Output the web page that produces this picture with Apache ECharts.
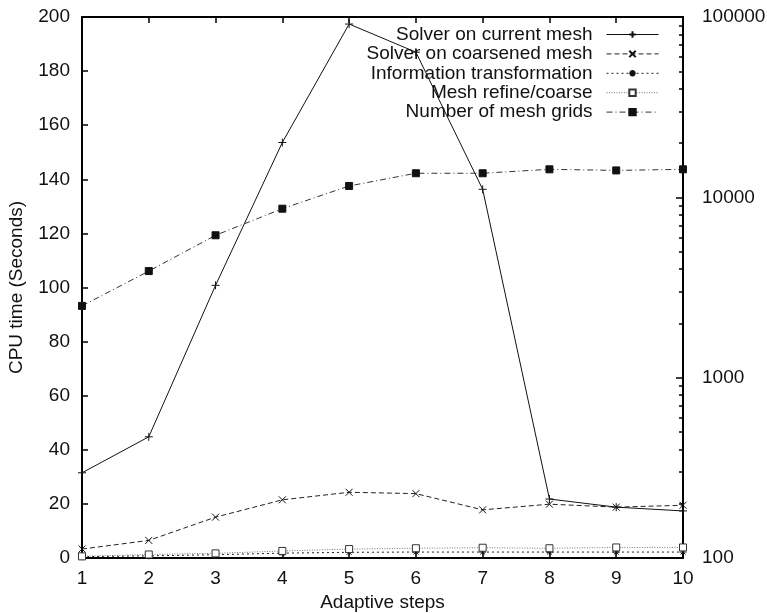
<!DOCTYPE html>
<html>
<head>
    <meta charset="utf-8">
    <title>CPU time</title>
    <script src="https://cdn.jsdelivr.net/npm/echarts@6/dist/echarts.min.js"></script>
    <style type="text/css">
        body { margin: 0; background: #fff; }
    </style>
</head>
<body>
<div id="main" style="width: 767px;height: 613px"></div>
<script>
    // data
    var steps = [1, 2, 3, 4, 5, 6, 7, 8, 9, 10];
    var solverCurrent = [31.5, 44.8, 100.8, 153.6, 197.4, 187, 136.3, 21.8, 18.8, 17.4];
    var solverCoarsened = [3.3, 6.5, 15.1, 21.5, 24.3, 23.8, 17.8, 19.9, 18.8, 19.5];
    var infoTransform = [0.5, 0.8, 1.2, 1.8, 2.1, 2.2, 2.2, 2.2, 2.2, 2.2];
    var meshRefine = [0.6, 1.3, 1.7, 2.6, 3.3, 3.6, 3.8, 3.6, 3.9, 3.9];
    var meshGrids = [2500, 3900, 6160, 8650, 11560, 13600, 13600, 14300, 14100, 14300];
    var rightLabels = [100, 1000, 10000, 100000];
    var rightMinor = [100, 200, 300, 400, 500, 600, 700, 800, 900,
        1000, 2000, 3000, 4000, 5000, 6000, 7000, 8000, 9000,
        10000, 20000, 30000, 40000, 50000, 60000, 70000, 80000, 90000, 100000];

    var font = 'Liberation Sans, Arial, sans-serif';
    var plusPath = 'path://M0,5L10,5M5,0L5,10';
    var crossPath = 'path://M0,0L10,10M10,0L0,10';
    var starPath = 'path://M0,5L10,5M5,0L5,10M1.5,1.5L8.5,8.5M8.5,1.5L1.5,8.5';

    function pairs(vals) {
        return steps.map(function (s, i) { return [s, vals[i]]; });
    }

    var chart = echarts.init(document.getElementById('main'));

    var option = {
        animation: false,
        textStyle: {fontFamily: font},
        grid: {left: 82, right: 84, top: 17, bottom: 55, outerBoundsMode: 'none'},
        legend: {
            orient: 'vertical',
            align: 'right',
            right: 103,
            top: 20,
            itemWidth: 52,
            itemHeight: 8,
            itemGap: 0.4,
            lineStyle: {width: 1},
            textStyle: {fontSize: 19, lineHeight: 19, color: '#111', fontFamily: font, padding: [0, 9, 0, 0]},
            data: ['Solver on current mesh', 'Solver on coarsened mesh',
                'Information transformation', 'Mesh refine/coarse', 'Number of mesh grids']
        },
        xAxis: [{
            type: 'value', min: 1, max: 10, interval: 1,
            name: 'Adaptive steps', nameLocation: 'middle', nameGap: 33,
            nameTextStyle: {fontSize: 19, color: '#111'},
            axisLine: {lineStyle: {color: '#000', width: 2}},
            axisTick: {inside: true, length: 6, lineStyle: {color: '#000', width: 1.5}},
            axisLabel: {fontSize: 19, color: '#111', margin: 11},
            splitLine: {show: false}
        }, {
            // mirror ticks on top
            type: 'value', position: 'top', min: 1, max: 10, interval: 1,
            axisLine: {lineStyle: {color: '#000', width: 2}},
            axisTick: {inside: true, length: 6, lineStyle: {color: '#000', width: 1.5}},
            axisLabel: {show: false},
            splitLine: {show: false}
        }],
        yAxis: [{
            type: 'value', min: 0, max: 200, interval: 20,
            name: 'CPU time (Seconds)', nameLocation: 'middle', nameGap: 56,
            nameTextStyle: {fontSize: 19, color: '#111'},
            axisLine: {show: true, lineStyle: {color: '#000', width: 2}},
            axisTick: {show: true, inside: true, length: 6, lineStyle: {color: '#000', width: 1.5}},
            axisLabel: {fontSize: 19, color: '#111', margin: 12},
            splitLine: {show: false}
        }, {
            type: 'log', logBase: 10, min: 100, max: 100000, position: 'right',
            axisLine: {show: true, lineStyle: {color: '#000', width: 2}},
            axisTick: {show: true, inside: true, length: 7, lineStyle: {color: '#000', width: 1.5}},
            axisLabel: {fontSize: 19, color: '#111', margin: 19, customValues: rightLabels,
                formatter: function (v) { return String(Math.round(v)); }},
            splitLine: {show: false}
        }, {
            // minor log ticks, drawn in log10 units
            type: 'value', min: 2, max: 5, position: 'right',
            axisLine: {show: false},
            axisTick: {show: true, inside: true, length: 4, lineStyle: {color: '#000', width: 1.5},
                customValues: rightMinor.map(function (v) { return Math.log10(v); })},
            axisLabel: {show: false},
            splitLine: {show: false}
        }],
        series: [{
            name: 'Solver on current mesh', type: 'line', data: pairs(solverCurrent),
            symbol: plusPath, symbolSize: 8,
            itemStyle: {color: '#111', borderColor: '#111', borderWidth: 1},
            lineStyle: {color: '#111', width: 1, type: 'solid'}
        }, {
            name: 'Solver on coarsened mesh', type: 'line', data: pairs(solverCoarsened),
            symbol: crossPath, symbolSize: 7,
            itemStyle: {color: '#111', borderColor: '#111', borderWidth: 1},
            lineStyle: {color: '#222', width: 1, type: [5, 3]}
        }, {
            name: 'Information transformation', type: 'line', data: pairs(infoTransform),
            symbol: starPath, symbolSize: 7,
            itemStyle: {color: '#111', borderColor: '#111', borderWidth: 1},
            lineStyle: {color: '#222', width: 1, type: [2, 3]}
        }, {
            name: 'Mesh refine/coarse', type: 'line', data: pairs(meshRefine),
            symbol: 'rect', symbolSize: 7,
            itemStyle: {color: '#fff', borderColor: '#333', borderWidth: 1},
            lineStyle: {color: '#777', width: 1, type: [1, 1.5]}
        }, {
            name: 'Number of mesh grids', type: 'line', yAxisIndex: 1, data: pairs(meshGrids),
            symbol: 'rect', symbolSize: 7,
            itemStyle: {color: '#111', borderColor: '#111', borderWidth: 1},
            lineStyle: {color: '#333', width: 1, type: [6, 3, 1, 3]}
        }]
    };
    chart.setOption(option);
</script>
</body>
</html>
